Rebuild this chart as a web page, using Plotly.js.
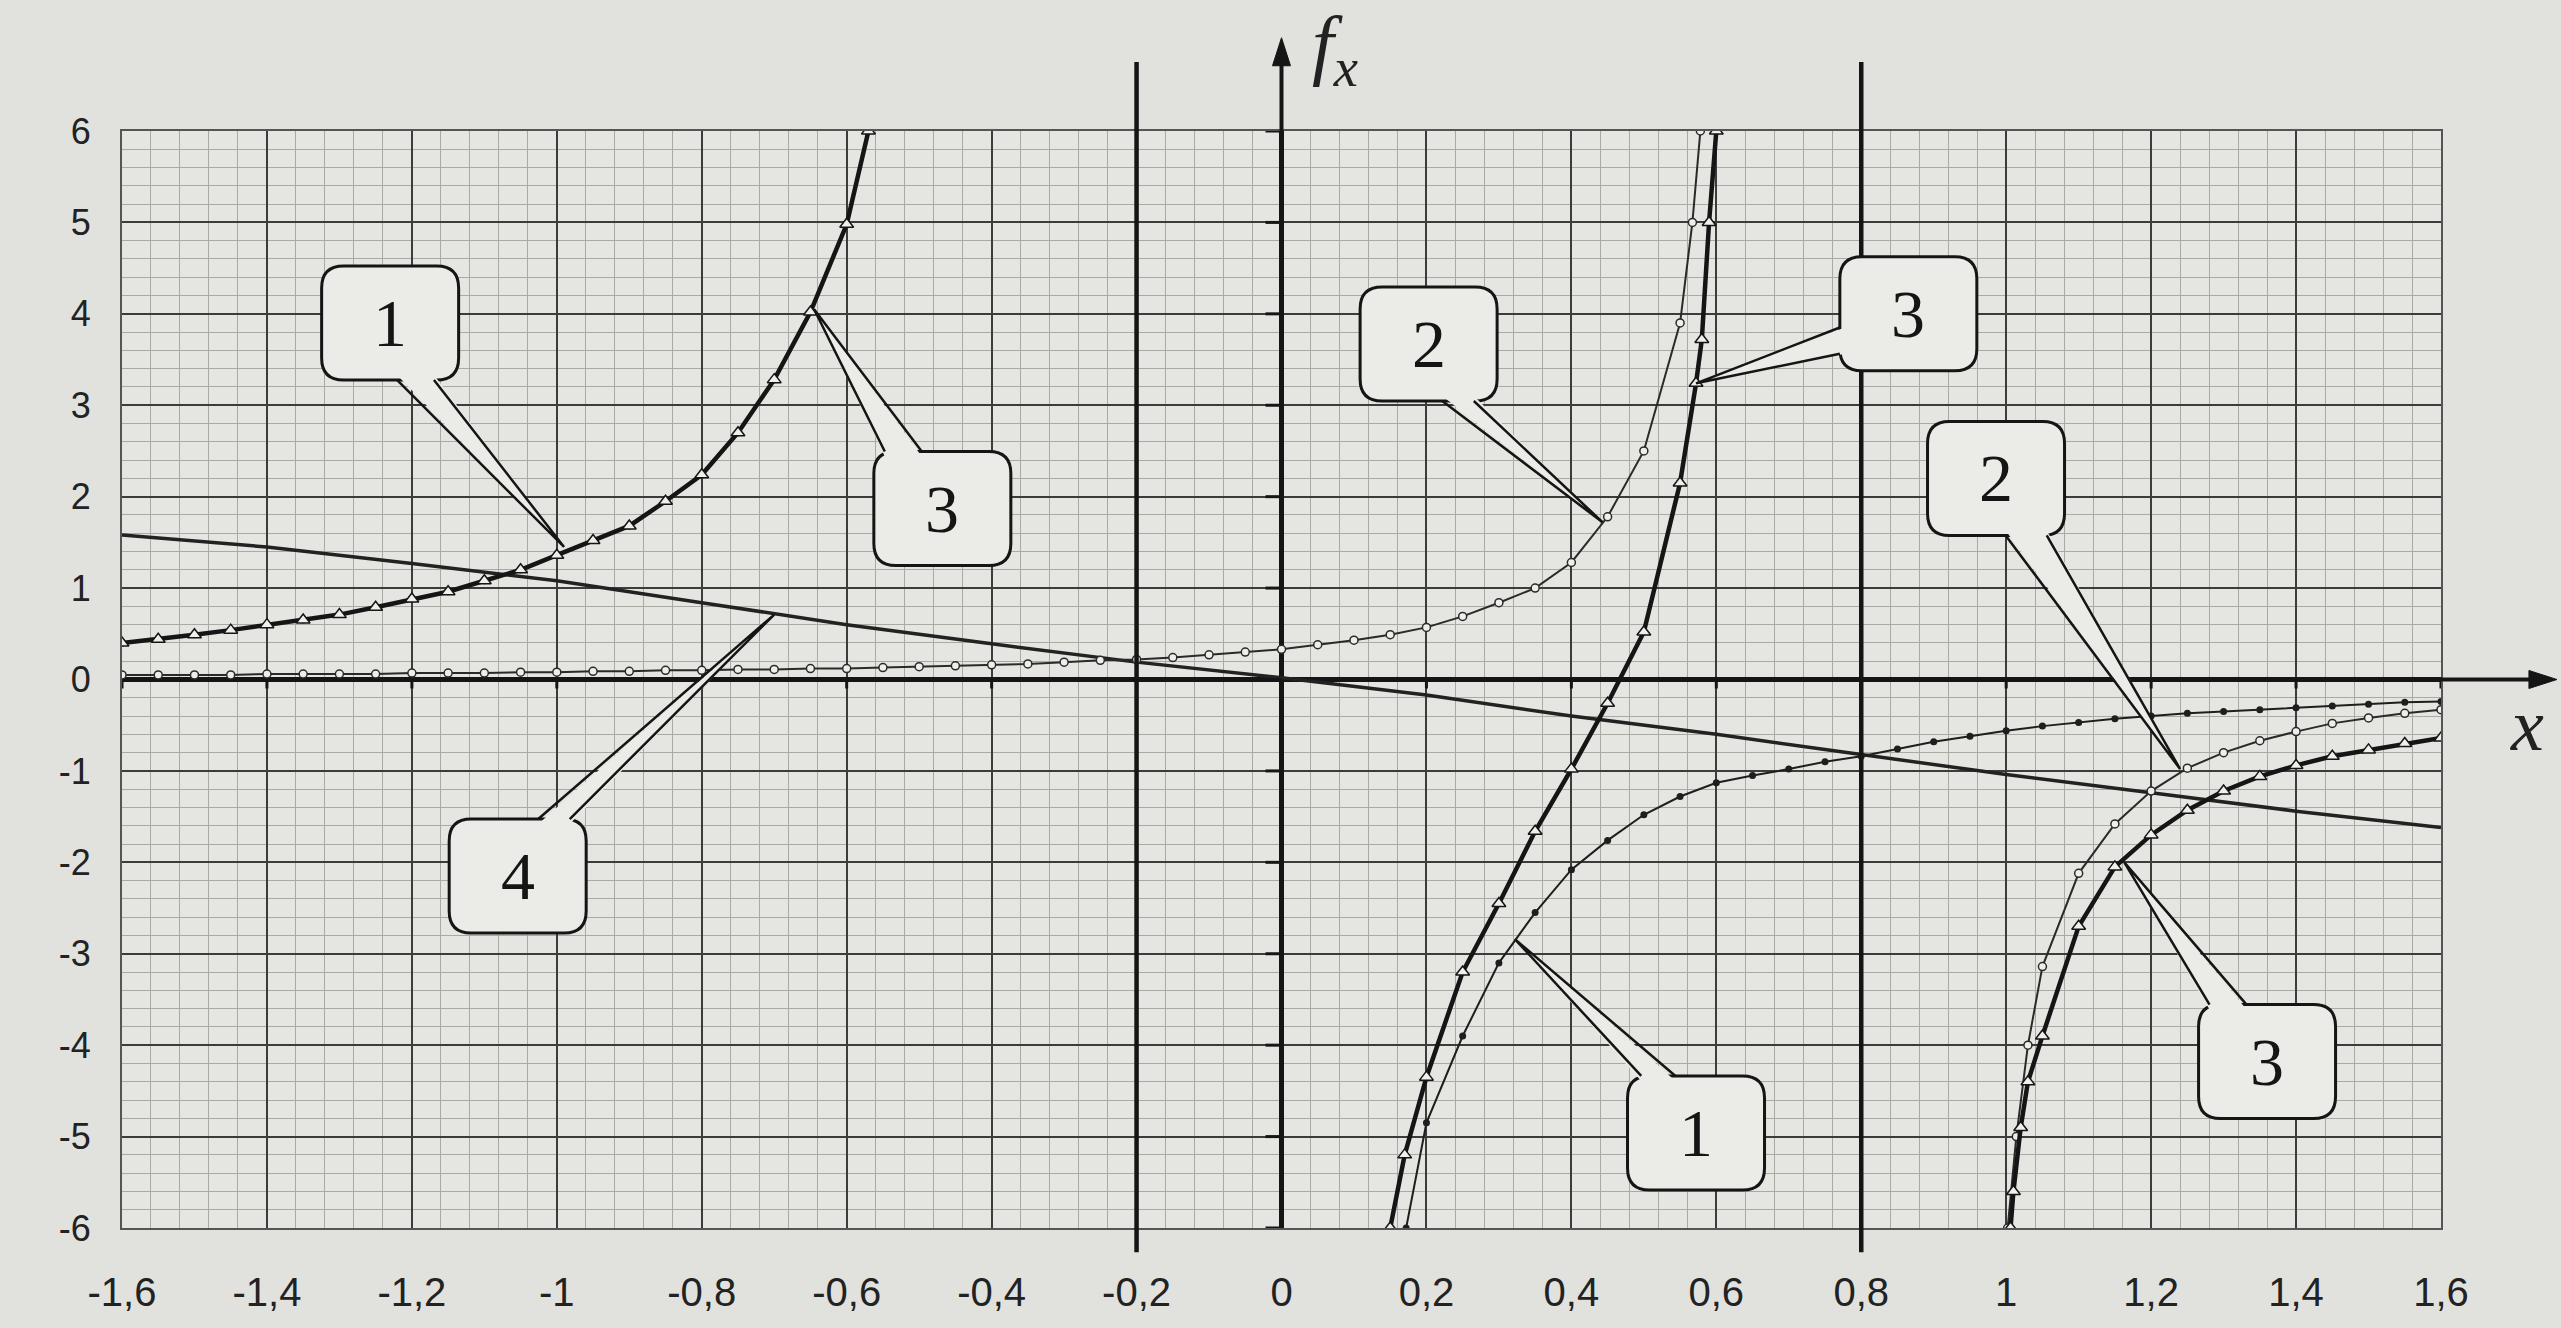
<!DOCTYPE html>
<html><head><meta charset="utf-8">
<script src="https://cdn.plot.ly/plotly-3.0.1.min.js"></script>
<style>html,body{margin:0;padding:0;background:#e1e1dd;} #chart{width:2561px;height:1328px;}</style>
</head><body><div id="chart"></div>
<script>
// ---------- data ----------
const xTickVals = [-1.6,-1.4,-1.2,-1,-0.8,-0.6,-0.4,-0.2,0,0.2,0.4,0.6,0.8,1,1.2,1.4,1.6];
const xTickText = ['-1,6','-1,4','-1,2','-1','-0,8','-0,6','-0,4','-0,2','0','0,2','0,4','0,6','0,8','1','1,2','1,4','1,6'];
const yTickVals = [-6,-5,-4,-3,-2,-1,0,1,2,3,4,5,6];
const yTickText = ['-6','-5','-4','-3','-2','-1','0','1','2','3','4','5','6'];
const asymptoteX = [-0.2, 0.8];

// left branch shared by curves 1 and 3
const leftBranchX = [-1.6,-1.55,-1.5,-1.45,-1.4,-1.35,-1.3,-1.25,-1.2,-1.15,-1.1,-1.05,-1.0,-0.95,-0.9,-0.85,-0.8,-0.75,-0.7,-0.65,-0.6,-0.57];
const leftBranchY = [0.40,0.44,0.49,0.54,0.60,0.65,0.71,0.79,0.88,0.96,1.08,1.20,1.36,1.52,1.68,1.95,2.24,2.70,3.28,4.02,4.98,6.0];

// curve 1, right branch
const curve1RightX = [0.172,0.2,0.25,0.3,0.35,0.4,0.45,0.5,0.55,0.6,0.65,0.7,0.75,0.8,0.85,0.9,0.95,1.0,1.05,1.1,1.15,1.2,1.25,1.3,1.35,1.4,1.45,1.5,1.55,1.6];
const curve1RightY = [-6.0,-4.85,-3.9,-3.1,-2.55,-2.08,-1.76,-1.48,-1.28,-1.13,-1.05,-0.98,-0.9,-0.84,-0.76,-0.68,-0.62,-0.56,-0.51,-0.47,-0.43,-0.40,-0.37,-0.35,-0.33,-0.31,-0.29,-0.27,-0.25,-0.24];

// curve 2, main branch
const curve2MainX = [-1.6,-1.55,-1.5,-1.45,-1.4,-1.35,-1.3,-1.25,-1.2,-1.15,-1.1,-1.05,-1.0,-0.95,-0.9,-0.85,-0.8,-0.75,-0.7,-0.65,-0.6,-0.55,-0.5,-0.45,-0.4,-0.35,-0.3,-0.25,-0.2,-0.15,-0.1,-0.05,0,0.05,0.1,0.15,0.2,0.25,0.3,0.35,0.4,0.45,0.5,0.55,0.567,0.578];
const curve2MainY = [0.05,0.05,0.05,0.05,0.06,0.06,0.06,0.06,0.07,0.07,0.07,0.08,0.08,0.09,0.09,0.10,0.10,0.11,0.11,0.12,0.12,0.13,0.14,0.15,0.16,0.17,0.19,0.21,0.22,0.24,0.27,0.30,0.33,0.38,0.43,0.49,0.57,0.69,0.84,1.0,1.28,1.78,2.5,3.9,5.0,6.0];
// curve 2, right branch
const curve2RightX = [1.002,1.014,1.03,1.05,1.1,1.15,1.2,1.25,1.3,1.35,1.4,1.45,1.5,1.55,1.6];
const curve2RightY = [-6.0,-5.0,-4.0,-3.14,-2.12,-1.58,-1.22,-0.97,-0.8,-0.67,-0.57,-0.48,-0.42,-0.37,-0.33];

// curve 3, middle and right branches
const curve3MidX = [0.15,0.17,0.2,0.25,0.3,0.35,0.4,0.45,0.5,0.55,0.572,0.58,0.59,0.6];
const curve3MidY = [-6.0,-5.2,-4.35,-3.2,-2.45,-1.66,-0.98,-0.26,0.52,2.15,3.24,3.72,5.0,6.0];
const curve3RightX = [1.006,1.01,1.02,1.03,1.05,1.1,1.15,1.2,1.25,1.3,1.35,1.4,1.45,1.5,1.55,1.6];
const curve3RightY = [-6.0,-5.6,-4.9,-4.4,-3.9,-2.7,-2.05,-1.7,-1.43,-1.22,-1.06,-0.94,-0.84,-0.77,-0.70,-0.64];

// curve 4 (nearly straight line)
const line4X = [-1.6,-1.4,-1.2,-1.0,-0.8,-0.6,-0.4,-0.2,0,0.2,0.4,0.6,0.8,1.0,1.2,1.4,1.6];
const line4Y = [1.58,1.45,1.27,1.08,0.84,0.6,0.39,0.19,0.02,-0.17,-0.4,-0.6,-0.82,-1.04,-1.24,-1.44,-1.62];

// callout labels: text, box centre, pointed point
const calloutText = ['1','3','4','2','3','2','1','3'];
const calloutBox  = [[-1.23,3.9],[-0.468,1.87],[-1.054,-2.15],[0.203,3.67],[0.865,4.0],[0.986,2.2],[0.572,-4.96],[1.36,-4.18]];
const calloutTip  = [[-0.99,1.45],[-0.645,4.05],[-0.7,0.71],[0.443,1.72],[0.572,3.24],[1.24,-0.98],[0.322,-2.84],[1.163,-2.0]];
const calloutEdge = [['bottom',0.55,0.82],['top',0.08,0.35],['top',0.65,0.88],['bottom',0.6,0.83],['left',0.62,0.85],['bottom',0.57,0.87],['top',0.1,0.35],['top',0.08,0.35]];

// ---------- layout geometry ----------
const W = 2561, H = 1328;
const M = {l:122, r:120, t:131, b:100};
const xr = [-1.6, 1.6], yr = [-6, 6];
const pxX = (W - M.l - M.r) / (xr[1]-xr[0]);
const pxY = (H - M.t - M.b) / (yr[1]-yr[0]);
const ink = '#151515';
const boxFill = '#ebebe8';

const cat = (a, b) => a.concat([null], b);

const traces = [
  {x: line4X, y: line4Y, mode:'lines', line:{color:'#222', width:3.5}, hoverinfo:'skip'},
  {x: cat(curve2MainX, curve2RightX), y: cat(curve2MainY, curve2RightY), mode:'lines+markers',
   line:{color:'#2a2a2a', width:2}, marker:{symbol:'circle', size:8, color:'#eeeeea', line:{color:'#2a2a2a', width:1.5}}, connectgaps:false},
  {x: cat(leftBranchX, curve1RightX), y: cat(leftBranchY, curve1RightY), mode:'lines+markers',
   line:{color:'#1e1e1e', width:2}, marker:{symbol:'circle', size:7, color:'#1e1e1e'}, connectgaps:false},
  {x: cat(cat(leftBranchX, curve3MidX), curve3RightX), y: cat(cat(leftBranchY, curve3MidY), curve3RightY), mode:'lines+markers',
   line:{color:ink, width:4.5}, marker:{symbol:'triangle-up', size:12, color:'#efefec', line:{color:ink, width:1.5}}, connectgaps:false}
];

const shapes = [];
asymptoteX.forEach(x => shapes.push({type:'line', xref:'x', yref:'paper', x0:x, x1:x, y0:-0.022, y1:1.063, line:{color:ink, width:4.5}, layer:'above'}));
// small ticks on the y axis (x = 0) and on the x axis (y = 0)
yTickVals.forEach(v => shapes.push({type:'line', xref:'x', yref:'y', xsizemode:'pixel', xanchor:0, x0:-16, x1:0, y0:v, y1:v, line:{color:ink, width:3}, layer:'above'}));
xTickVals.forEach(v => shapes.push({type:'line', xref:'x', yref:'y', ysizemode:'pixel', yanchor:0, y0:0, y1:-9, x0:v, x1:v, line:{color:ink, width:3}, layer:'above'}));
// axis extensions with arrow heads
shapes.push({type:'line', xref:'paper', yref:'y', x0:1, x1:1.045, y0:0, y1:0, line:{color:ink, width:4}, layer:'above'});
shapes.push({type:'path', xref:'paper', yref:'y', xsizemode:'pixel', ysizemode:'pixel', xanchor:1.05, yanchor:0,
             path:'M 0,0 L -28,9 L -28,-9 Z', fillcolor:ink, line:{color:ink, width:1}, layer:'above'});
shapes.push({type:'line', xref:'x', yref:'paper', x0:0, x1:0, y0:1, y1:1.075, line:{color:ink, width:4}, layer:'above'});
shapes.push({type:'path', xref:'x', yref:'paper', xsizemode:'pixel', ysizemode:'pixel', xanchor:0, yanchor:1.085,
             path:'M 0,0 L -9,-28 L 9,-28 Z', fillcolor:ink, line:{color:ink, width:1}, layer:'above'});

const annotations = [];
const bw = 137 / pxX, bh = 114 / pxY, rx = 22 / pxX, ry = 22 / pxY;
calloutText.forEach((t, i) => {
  const [cx, cy] = calloutBox[i];
  const [tx, ty] = calloutTip[i];
  const [edge, f0, f1] = calloutEdge[i];
  const L = cx - bw/2, R = cx + bw/2, B = cy - bh/2, T = cy + bh/2;
  const box = `M ${L+rx},${T} L ${R-rx},${T} Q ${R},${T} ${R},${T-ry} L ${R},${B+ry} Q ${R},${B} ${R-rx},${B} L ${L+rx},${B} Q ${L},${B} ${L},${B+ry} L ${L},${T-ry} Q ${L},${T} ${L+rx},${T} Z`;
  shapes.push({type:'path', xref:'x', yref:'y', path:box, fillcolor:boxFill, line:{color:ink, width:3}, layer:'above'});
  let p0, p1, q0, q1;
  const inX = 5 / pxX, inY = 5 / pxY;
  if (edge === 'bottom') { p0 = [L + f0*bw, B]; p1 = [L + f1*bw, B]; q0 = [p0[0], B + inY]; q1 = [p1[0], B + inY]; }
  else if (edge === 'top') { p0 = [L + f0*bw, T]; p1 = [L + f1*bw, T]; q0 = [p0[0], T - inY]; q1 = [p1[0], T - inY]; }
  else { p0 = [L, T - f0*bh]; p1 = [L, T - f1*bh]; q0 = [L + inX, p0[1]]; q1 = [L + inX, p1[1]]; }
  shapes.push({type:'path', xref:'x', yref:'y', path:`M ${q0[0]},${q0[1]} L ${tx},${ty} L ${q1[0]},${q1[1]} Z`, fillcolor:boxFill, line:{width:0}, layer:'above'});
  shapes.push({type:'path', xref:'x', yref:'y', path:`M ${p0[0]},${p0[1]} L ${tx},${ty} L ${p1[0]},${p1[1]}`, fillcolor:'rgba(0,0,0,0)', line:{color:ink, width:2.5}, layer:'above'});
  annotations.push({x:cx, y:cy, xref:'x', yref:'y', text:t, showarrow:false, font:{family:'Liberation Serif, Times New Roman, serif', size:68, color:ink}, xanchor:'center', yanchor:'middle'});
});

// axis names
annotations.push({xref:'paper', yref:'y', x:1.037, y:-0.5, text:'<i>x</i>', showarrow:false, font:{family:'Liberation Serif, serif', size:74, color:'#222'}, xanchor:'center', yanchor:'middle'});
annotations.push({xref:'x', yref:'paper', x:0.04, y:1.075, text:'<i>f</i><sub><i>x</i></sub>', showarrow:false, font:{family:'Liberation Serif, serif', size:78, color:'#222'}, xanchor:'left', yanchor:'middle'});

const gridMajor = '#3c3c3a', gridMinor = '#aaaaa5';
const layout = {
  width: W, height: H, margin: M,
  paper_bgcolor:'#e1e1dd', plot_bgcolor:'#e5e5e1',
  showlegend:false,
  font:{family:'Liberation Sans, Arial, sans-serif', color:'#222'},
  xaxis:{range:xr, tickvals:xTickVals, ticktext:xTickText, showgrid:true, gridcolor:gridMajor, gridwidth:2,
         minor:{dtick:0.04, tick0:0, showgrid:true, gridcolor:gridMinor, gridwidth:1},
         zeroline:true, zerolinecolor:ink, zerolinewidth:4.5, showline:true, mirror:true, linecolor:'#555', linewidth:2,
         ticks:'', ticklabelstandoff:28, tickfont:{size:40, color:'#222'}, fixedrange:true},
  yaxis:{range:yr, tickvals:yTickVals, ticktext:yTickText, showgrid:true, gridcolor:gridMajor, gridwidth:2,
         minor:{dtick:0.2, tick0:0, showgrid:true, gridcolor:gridMinor, gridwidth:1},
         zeroline:true, zerolinecolor:ink, zerolinewidth:4.5, showline:true, mirror:true, linecolor:'#555', linewidth:2,
         ticks:'', ticklabelstandoff:22, tickfont:{size:36, color:'#222'}, fixedrange:true},
  shapes: shapes,
  annotations: annotations
};
Plotly.newPlot('chart', traces, layout, {displayModeBar:false, staticPlot:true});
</script>
</body></html>
